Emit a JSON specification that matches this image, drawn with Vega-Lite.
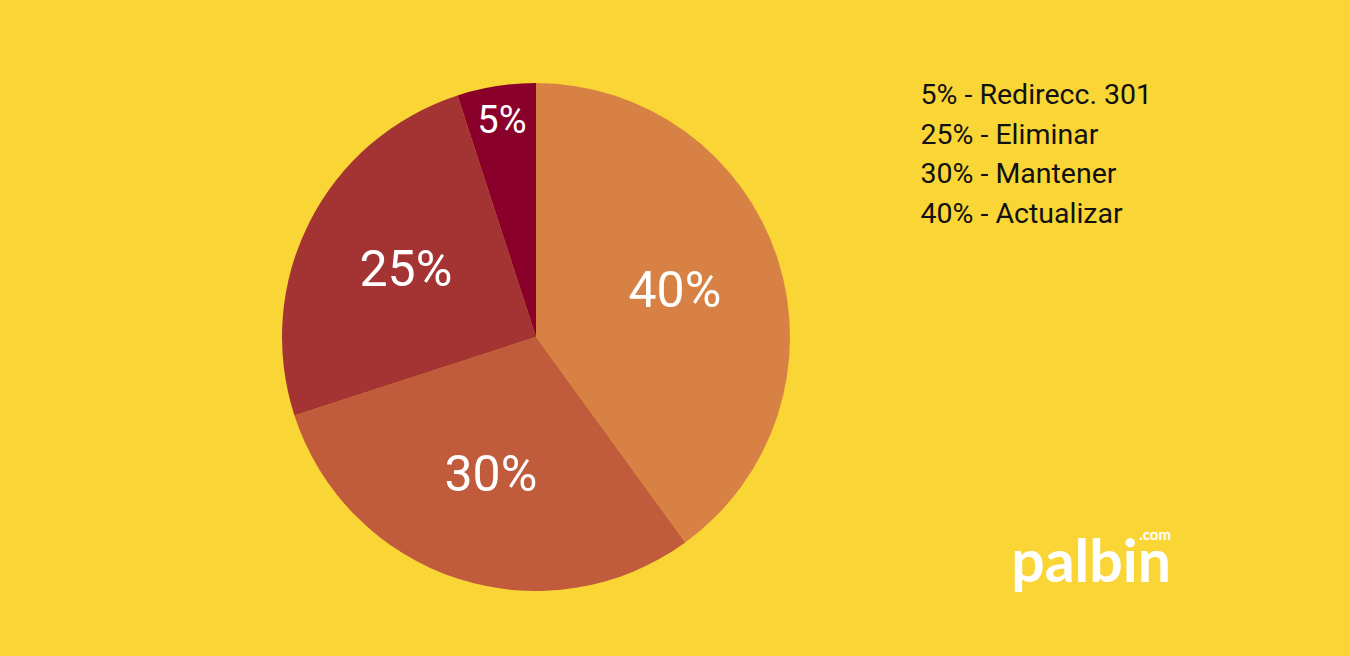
{
  "$schema": "https://vega.github.io/schema/vega-lite/v6.json",
  "autosize": "none",
  "width": 508,
  "height": 508,
  "padding": {"left": 282, "top": 83, "right": 560, "bottom": 65},
  "background": "#F9D536",
  "config": {
    "view": {"stroke": null},
    "font": "Roboto"
  },
  "title": {
    "text": ".com",
    "subtitle": "palbin",
    "orient": "bottom",
    "anchor": "end",
    "frame": "group",
    "offset": 0,
    "dx": 381,
    "dy": -63,
    "font": "Lato",
    "fontSize": 15,
    "fontWeight": "bold",
    "color": "#FFFFFF",
    "subtitleFont": "Lato",
    "subtitleFontSize": 59,
    "subtitleFontWeight": "bold",
    "subtitleColor": "#FFFFFF",
    "subtitlePadding": -8
  },
  "data": {
    "values": [
      {"action": "Actualizar", "share": 40},
      {"action": "Mantener", "share": 30},
      {"action": "Eliminar", "share": 25},
      {"action": "Redirecc. 301", "share": 5}
    ]
  },
  "transform": [
    {"calculate": "datum.share + '% - ' + datum.action", "as": "entry"},
    {"calculate": "datum.share + '%'", "as": "pct"}
  ],
  "encoding": {
    "theta": {"field": "share", "type": "quantitative", "stack": true},
    "order": {"field": "share", "type": "quantitative", "sort": "descending"}
  },
  "layer": [
    {
      "mark": {"type": "arc", "outerRadius": 254},
      "encoding": {
        "color": {
          "field": "entry",
          "type": "nominal",
          "scale": {
            "domain": ["5% - Redirecc. 301", "25% - Eliminar", "30% - Mantener", "40% - Actualizar"],
            "range": ["#89002B", "#A43334", "#C05B3B", "#D78244"]
          },
          "legend": {
            "orient": "none",
            "legendX": 610,
            "legendY": -2,
            "title": null,
            "padding": 0,
            "symbolSize": 0,
            "symbolOpacity": 0,
            "symbolStrokeWidth": 0,
            "labelOffset": 0,
            "labelFont": "Roboto",
            "labelFontSize": 28.5,
            "labelColor": "#111111",
            "labelLimit": 400,
            "rowPadding": 10.5
          }
        }
      }
    },
    {
      "mark": {
        "type": "text",
        "color": "#FFFFFF",
        "font": "Roboto",
        "radius": {"expr": "datum.share < 10 ? 218 : 146"},
        "fontSize": {"expr": "datum.share < 10 ? 38 : 50"}
      },
      "encoding": {
        "text": {"field": "pct", "type": "nominal"}
      }
    }
  ]
}
